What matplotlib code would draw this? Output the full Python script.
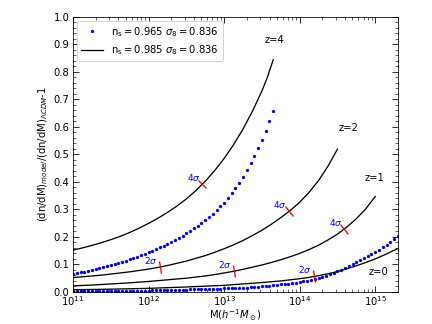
import numpy as np
import matplotlib
matplotlib.use("Agg")
import matplotlib.pyplot as plt
from matplotlib.markers import MarkerStyle
from matplotlib.transforms import Affine2D

# ---------------------------------------------------------------------------
# data (x = log10 M, y = ratio - 1)
# ---------------------------------------------------------------------------

# n_s = 0.985 (black lines)
logm_z4 = [11.0, 11.125, 11.25, 11.375, 11.5, 11.625, 11.75, 11.875, 12.0, 12.125,
           12.25, 12.375, 12.5, 12.625, 12.75, 12.875, 13.0, 13.125, 13.25, 13.375,
           13.5, 13.575, 13.65]
ratio_z4 = [0.152, 0.160, 0.169, 0.179, 0.190, 0.202, 0.216, 0.232, 0.249, 0.268,
            0.289, 0.312, 0.338, 0.368, 0.402, 0.441, 0.485, 0.535, 0.592, 0.657,
            0.730, 0.782, 0.844]

logm_z2 = [11.0, 11.125, 11.25, 11.375, 11.5, 11.625, 11.75, 11.875, 12.0, 12.125,
           12.25, 12.375, 12.5, 12.625, 12.75, 12.875, 13.0, 13.125, 13.25, 13.375,
           13.5, 13.625, 13.75, 13.875, 14.0, 14.125, 14.25, 14.375, 14.5]
ratio_z2 = [0.052, 0.055, 0.058, 0.061, 0.065, 0.069, 0.073, 0.078, 0.083, 0.089,
            0.096, 0.104, 0.112, 0.122, 0.132, 0.144, 0.157, 0.171, 0.187, 0.205,
            0.224, 0.246, 0.270, 0.296, 0.326, 0.362, 0.405, 0.457, 0.519]

logm_z1 = [11.0, 11.125, 11.25, 11.375, 11.5, 11.625, 11.75, 11.875, 12.0, 12.125,
           12.25, 12.375, 12.5, 12.625, 12.75, 12.875, 13.0, 13.125, 13.25, 13.375,
           13.5, 13.625, 13.75, 13.875, 14.0, 14.125, 14.25, 14.375, 14.5, 14.625,
           14.75, 14.875, 15.0]
ratio_z1 = [0.022, 0.0235, 0.025, 0.027, 0.029, 0.031, 0.033, 0.0355, 0.038, 0.041,
            0.044, 0.047, 0.050, 0.054, 0.058, 0.063, 0.069, 0.075, 0.082, 0.090,
            0.098, 0.107, 0.117, 0.128, 0.140, 0.154, 0.170, 0.189, 0.210, 0.236,
            0.266, 0.302, 0.347]

logm_z0 = [11.0, 11.25, 11.5, 11.75, 12.0, 12.25, 12.5, 12.75, 13.0, 13.25,
           13.5, 13.625, 13.75, 13.875, 14.0, 14.125, 14.25, 14.375, 14.5, 14.625,
           14.75, 14.875, 15.0, 15.15, 15.3]
ratio_z0 = [0.008, 0.009, 0.010, 0.0115, 0.013, 0.0155, 0.018, 0.021, 0.024, 0.029,
            0.034, 0.037, 0.040, 0.044, 0.048, 0.053, 0.059, 0.066, 0.074, 0.084,
            0.095, 0.107, 0.120, 0.138, 0.158]

# n_s = 0.965 (blue dots), mass grid of the dots
logm_dots_z4 = np.linspace(11.0, 13.65, 54)
dots_z4 = [0.066, 0.069, 0.071, 0.074, 0.077, 0.080, 0.083, 0.087, 0.090, 0.094,
           0.097, 0.101, 0.105, 0.110, 0.114, 0.118, 0.123, 0.128, 0.133, 0.138,
           0.144, 0.150, 0.156, 0.162, 0.168, 0.175, 0.182, 0.190, 0.197, 0.205,
           0.214, 0.223, 0.232, 0.241, 0.251, 0.261, 0.272, 0.284, 0.297, 0.311,
           0.325, 0.342, 0.359, 0.377, 0.396, 0.418, 0.442, 0.467, 0.493, 0.522,
           0.552, 0.585, 0.620, 0.659]

logm_dots_z0 = np.linspace(11.0, 15.3, 87)
dots_z0 = [0.002, 0.002, 0.002, 0.002, 0.003, 0.003, 0.003, 0.003, 0.003, 0.003,
           0.003, 0.004, 0.004, 0.004, 0.004, 0.004, 0.004, 0.005, 0.005, 0.005,
           0.005, 0.006, 0.006, 0.006, 0.006, 0.007, 0.007, 0.007, 0.008, 0.008,
           0.008, 0.009, 0.009, 0.010, 0.010, 0.010, 0.011, 0.011, 0.012, 0.012,
           0.013, 0.013, 0.014, 0.014, 0.015, 0.016, 0.016, 0.017, 0.018, 0.019,
           0.020, 0.021, 0.022, 0.024, 0.025, 0.027, 0.028, 0.030, 0.032, 0.034,
           0.036, 0.039, 0.041, 0.044, 0.047, 0.051, 0.055, 0.059, 0.064, 0.069,
           0.075, 0.081, 0.087, 0.094, 0.101, 0.108, 0.115, 0.122, 0.130, 0.137,
           0.145, 0.153, 0.162, 0.171, 0.180, 0.192, 0.205]

# significance marks on the black curves: (curve, log10 M, label)
sigma_marks = [("z4", 12.71, r"4$\sigma$"),
               ("z2", 12.15, r"2$\sigma$"),
               ("z2", 13.86, r"4$\sigma$"),
               ("z1", 13.13, r"2$\sigma$"),
               ("z1", 14.59, r"4$\sigma$"),
               ("z0", 14.19, r"2$\sigma$")]

# redshift labels: (text, log10 M, y)
z_labels = [("z=4", 13.67, 0.915),
            ("z=2", 14.65, 0.596),
            ("z=1", 14.99, 0.415),
            ("z=0", 15.05, 0.073)]

curves = {"z4": (logm_z4, ratio_z4), "z2": (logm_z2, ratio_z2),
          "z1": (logm_z1, ratio_z1), "z0": (logm_z0, ratio_z0)}

# ---------------------------------------------------------------------------
fig = plt.figure(figsize=(6.0, 4.5), dpi=72)
ax = fig.add_axes([0.169, 0.099, 0.752, 0.849])

ax.plot(10**logm_dots_z4, dots_z4, 'o', color='blue', ms=3.3, mew=0,
        label=r'$\rm n_s = 0.965$ $\sigma_8 = 0.836$')
ax.plot(10**logm_dots_z0, dots_z0, 'o', color='blue', ms=3.3, mew=0)

first = True
for key, (lm, r) in curves.items():
    ax.plot(10**np.array(lm), r, '-', color='black', lw=1.3,
            label=r'$\rm n_s = 0.985$ $\sigma_8 = 0.836$' if first else None)
    first = False

ax.set_xscale('log')
ax.set_xlim(1e11, 10**15.3)
ax.set_ylim(0, 1.0)
ax.set_yticks(np.arange(0, 1.01, 0.1))
ax.set_yticks(np.arange(0, 1.001, 0.02), minor=True)
ax.tick_params(which='both', direction='in', top=True, right=True, labelsize=10)
ax.tick_params(which='major', length=6)
ax.tick_params(which='minor', length=3)
ax.tick_params(axis='x', which='major', pad=2)

ax.set_xlabel(r'M($h^{-1}M_\odot$)', fontsize=10, labelpad=0)
ax.set_ylabel(r'(dn/dM)$_{model}$/(dn/dM)$_{\Lambda CDM}$-1', fontsize=10)

# red marks perpendicular to the curves (in display space)
for key, lm0, lab in sigma_marks:
    lm, r = curves[key]
    y0 = np.interp(lm0, lm, r)
    ya = np.interp(lm0 - 0.05, lm, r)
    yb = np.interp(lm0 + 0.05, lm, r)
    pa = ax.transData.transform((10**(lm0 - 0.05), ya))
    pb = ax.transData.transform((10**(lm0 + 0.05), yb))
    ang = np.degrees(np.arctan2(pb[1] - pa[1], pb[0] - pa[0]))
    mk = MarkerStyle('|', transform=Affine2D().rotate_deg(ang))
    ax.plot(10**lm0, y0, marker=mk, color='red', ms=12, mew=1.3, zorder=5)
    ax.annotate(lab, (10**lm0, y0), xytext=(-2, 1), textcoords='offset points',
                ha='right', va='bottom', color='blue', fontsize=9)

for txt, lm0, yy in z_labels:
    ax.text(10**lm0, yy, txt, ha='center', va='center', fontsize=10)

ax.legend(loc='upper left', fontsize=10, numpoints=1, handlelength=2.2,
          borderaxespad=0.4)

fig.savefig("out.png", dpi=72)
